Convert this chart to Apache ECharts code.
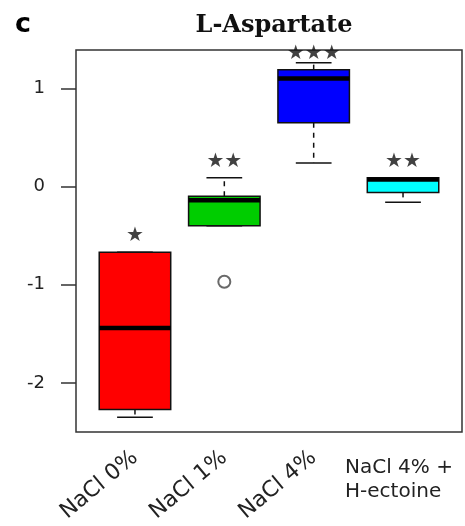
<!DOCTYPE html>
<html>
<head>
<meta charset="utf-8">
<script src="https://cdn.jsdelivr.net/npm/echarts@6/dist/echarts.min.js"></script>
<style>
html,body{margin:0;padding:0;background:#fff;}
#chart{width:465px;height:526px;}
</style>
</head>
<body>
<div id="chart"></div>
<script>
// ---- data ----
var categories = ['NaCl 0%', 'NaCl 1%', 'NaCl 4%', 'NaCl 4% +\nH-ectoine'];
// [min, Q1, median, Q3, max]
var boxRed   = [-2.35, -2.27, -1.44, -0.67, -0.67];
var boxGreen = [-0.40, -0.40, -0.14, -0.10, 0.09];
var boxBlue  = [0.24, 0.65, 1.10, 1.19, 1.26];
var boxCyan  = [-0.16, -0.06, 0.07, 0.09, 0.09];
var boxColors = ['#FF0000', '#00CD00', '#0000FF', '#00FFFF'];
var outliers = [[2, -0.97]];
var starLabels = ['★', '★★', '★★★', '★★'];
var starY = [-0.50, 0.25, 1.35, 0.25];
var yTicks = [-2, -1, 0, 1];

var boxes = [boxRed, boxGreen, boxBlue, boxCyan];
var boxSeriesData = boxes.map(function (b, i) { return [i + 1].concat(b).concat([i]); });
var starData = starY.map(function (y, i) { return [i + 1, y, starLabels[i]]; });

var chart = echarts.init(document.getElementById('chart'), null, { renderer: 'canvas' });

function renderBox(params, api) {
  var x = api.value(0);
  var vmin = api.value(1), q1 = api.value(2), med = api.value(3), q3 = api.value(4), vmax = api.value(5);
  var color = boxColors[api.value(6)];
  var w = api.size([0.8, 0])[0];
  var pMin = api.coord([x, vmin]), pQ1 = api.coord([x, q1]), pMed = api.coord([x, med]),
      pQ3 = api.coord([x, q3]), pMax = api.coord([x, vmax]);
  var cx = pMed[0];
  var children = [];
  var dashStyle = { stroke: '#111', lineWidth: 1.5, lineDash: [5, 5] };
  var capStyle = { stroke: '#111', lineWidth: 1.5 };
  if (pMax[1] < pQ3[1] - 0.5) {
    children.push({ type: 'line', shape: { x1: cx, y1: pQ3[1], x2: cx, y2: pMax[1] }, style: dashStyle });
  }
  children.push({ type: 'line', shape: { x1: cx - w / 4, y1: pMax[1], x2: cx + w / 4, y2: pMax[1] }, style: capStyle });
  if (pMin[1] > pQ1[1] + 0.5) {
    children.push({ type: 'line', shape: { x1: cx, y1: pQ1[1], x2: cx, y2: pMin[1] }, style: dashStyle });
  }
  children.push({ type: 'line', shape: { x1: cx - w / 4, y1: pMin[1], x2: cx + w / 4, y2: pMin[1] }, style: capStyle });
  children.push({ type: 'rect', shape: { x: cx - w / 2, y: pQ3[1], width: w, height: pQ1[1] - pQ3[1] },
    style: { fill: color, stroke: '#111', lineWidth: 1.5 } });
  children.push({ type: 'line', shape: { x1: cx - w / 2, y1: pMed[1], x2: cx + w / 2, y2: pMed[1] },
    style: { stroke: '#000', lineWidth: 4.5 } });
  return { type: 'group', children: children };
}

var option = {
  backgroundColor: '#fff',
  animation: false,
  title: [{
    text: 'L-Aspartate',
    left: 269, top: 9, textAlign: 'center',
    textStyle: { fontFamily: 'DejaVu Serif', fontWeight: 'bold', fontSize: 24, color: '#111' }
  }, {
    text: 'c',
    left: 10, top: 6,
    textStyle: { fontFamily: 'DejaVu Sans', fontWeight: 'bold', fontSize: 27, color: '#000' }
  }],
  grid: {
    left: 76, right: 3, top: 50, bottom: 94,
    show: true, borderColor: '#333', borderWidth: 1.5, backgroundColor: 'transparent'
  },
  xAxis: {
    type: 'value', min: 0.34, max: 4.66,
    splitLine: { show: false },
    axisLine: { show: false },
    axisTick: { show: false },
    axisLabel: {
      customValues: [1, 2, 3],
      formatter: function (v) { return categories[Math.round(v) - 1] || ''; },
      rotate: 40, margin: 23,
      fontFamily: 'DejaVu Sans', fontSize: 22, color: '#222'
    }
  },
  yAxis: {
    type: 'value', min: -2.5, max: 1.39,
    splitLine: { show: false },
    axisLine: { show: false },
    axisTick: { show: true, customValues: yTicks, length: 15, lineStyle: { color: '#333', width: 1.5 } },
    axisLabel: {
      customValues: yTicks, margin: 31,
      fontFamily: 'DejaVu Sans', fontSize: 18, color: '#222'
    }
  },
  series: [{
    type: 'custom',
    renderItem: renderBox,
    data: boxSeriesData,
    encode: { x: 0, y: [1, 2, 3, 4, 5] },
    z: 2
  }, {
    type: 'scatter',
    data: outliers,
    symbol: 'circle',
    symbolSize: 12,
    itemStyle: { color: '#fff', borderColor: '#444', borderWidth: 2 },
    z: 3
  }, {
    type: 'scatter',
    data: starData,
    symbolSize: 0,
    label: {
      show: true, position: 'inside',
      formatter: function (p) { return p.data[2]; },
      fontFamily: 'DejaVu Sans', fontSize: 20, color: '#111'
    },
    z: 4
  }]
};
chart.setOption(option);

var p4 = chart.convertToPixel({ gridIndex: 0 }, [4, 0]);
chart.setOption({
  graphic: [{
    type: 'text',
    left: p4[0] - 58,
    top: 456,
    style: {
      text: categories[3],
      fontFamily: 'DejaVu Sans', fontSize: 20, fill: '#222', lineHeight: 24
    }
  }]
});
</script>
</body>
</html>
